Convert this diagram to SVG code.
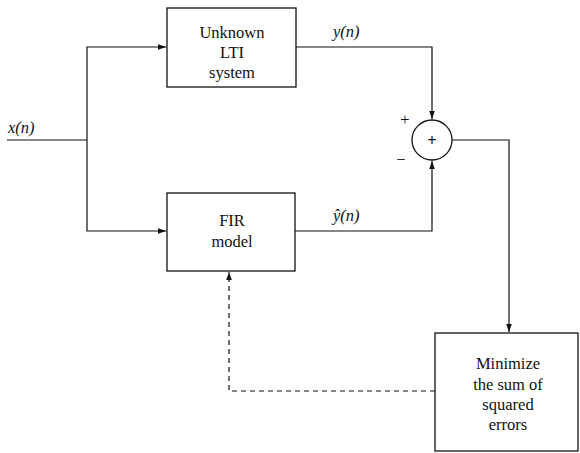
<svg xmlns="http://www.w3.org/2000/svg" width="580" height="453" viewBox="0 0 580 453">
<style>
.box{fill:#fff;stroke:#111;stroke-width:1.3}
.ln{fill:none;stroke:#111;stroke-width:1.2}
.dash{fill:none;stroke:#111;stroke-width:1.2;stroke-dasharray:5 4}
text{font-family:"Liberation Serif",serif;font-size:16.5px;fill:#111}
.c{text-anchor:middle}
.it{font-style:italic}
</style>
<defs>
<marker id="ah" viewBox="0 0 10 10" refX="10" refY="5" markerWidth="8" markerHeight="8" markerUnits="userSpaceOnUse" orient="auto">
<path d="M0,1.5 L10,5 L0,8.5 z" fill="#111"/>
</marker>
</defs>
<rect width="580" height="453" fill="#fff"/>
<g id="connectors">
<path class="ln" d="M7,140 H87"/>
<path class="ln" d="M87,140 V47 H166" marker-end="url(#ah)"/>
<path class="ln" d="M87,140 V231 H166" marker-end="url(#ah)"/>
<path class="ln" d="M296,47 H432 V119" marker-end="url(#ah)"/>
<path class="ln" d="M295,231 H432 V161" marker-end="url(#ah)"/>
<path class="ln" d="M452,140 H509 V332" marker-end="url(#ah)"/>
<path class="dash" d="M435,391 H229 V272" marker-end="url(#ah)"/>
<text x="8" y="133" class="it">x(n)</text>
<text x="333" y="37" class="it">y(n)</text>
<text x="333" y="221" class="it">ŷ(n)</text>
<text x="405" y="125" class="c">+</text>
<text x="401" y="165" class="c">−</text>
</g>
<g id="unknown">
<rect class="box" x="167" y="8" width="129" height="79"/>
<text x="232" y="38" class="c">Unknown</text>
<text x="232" y="58" class="c">LTI</text>
<text x="232" y="78" class="c">system</text>
</g>
<g id="fir">
<rect class="box" x="167" y="193" width="128" height="78"/>
<text x="232" y="226" class="c">FIR</text>
<text x="232" y="247" class="c">model</text>
</g>
<g id="sum">
<circle cx="432" cy="140" r="20" fill="#fff" stroke="#111" stroke-width="1.3"/>
<text x="432" y="146" class="c" font-weight="bold">+</text>
</g>
<g id="minimize">
<rect class="box" x="435" y="333" width="143" height="118"/>
<text x="508" y="369" class="c">Minimize</text>
<text x="508" y="390" class="c">the sum of</text>
<text x="508" y="410" class="c">squared</text>
<text x="508" y="430" class="c">errors</text>
</g>
</svg>
